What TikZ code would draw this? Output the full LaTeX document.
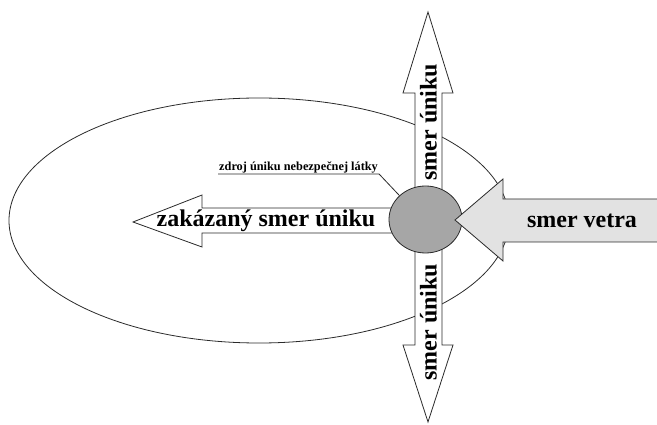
\documentclass[tikz,border=0pt]{standalone}
\usepackage{fontspec}
\setmainfont{Liberation Serif}
\usetikzlibrary{shapes.geometric}
\definecolor{srcgray}{HTML}{A6A6A6}
\definecolor{windgray}{HTML}{E2E2E2}
\definecolor{ink}{HTML}{2A2A2A}
\begin{document}
\begin{tikzpicture}[x=1pt,y=-1pt,
  outl/.style={draw=ink,line width=0.8pt,line join=miter},
  bigtxt/.style={font=\fontsize{24}{24}\selectfont\bfseries,inner sep=0pt},
  smalltxt/.style={font=\fontsize{12.3}{12.3}\selectfont\bfseries,inner sep=0pt}]
\useasboundingbox (0,0) rectangle (657,425);
% zone ellipse
\draw[outl] (259,220.5) ellipse [x radius=250pt, y radius=122.5pt];
% up arrow
\filldraw[outl,fill=white] (415,200) -- (415,93) -- (403,93) -- (428,12) -- (453,93) -- (442,93) -- (442,200) -- cycle;
% down arrow
\filldraw[outl,fill=white] (415,240) -- (415,345) -- (403,345) -- (428,422) -- (453,345) -- (442,345) -- (442,240) -- cycle;
% left arrow
\filldraw[outl,fill=white] (400,208) -- (202,208) -- (202,195) -- (133,222) -- (202,247) -- (202,233) -- (400,233) -- cycle;
% source
\node[ellipse,outl,fill=srcgray,minimum width=73pt,minimum height=67pt,inner sep=0pt] (src) at (425.5,219.5) {};
% wind arrow
\filldraw[outl,fill=windgray] (455,220) -- (503,179) -- (503,199) -- (662,199) -- (662,242) -- (503,242) -- (503,261) -- cycle;
% texts
\node[bigtxt,rotate=90] (up) at (428.5,122) {smer úniku};
\node[bigtxt,rotate=90] (down) at (428.5,322) {smer úniku};
\node[bigtxt] (forbid) at (266,221) {zakázaný smer úniku};
\node[bigtxt] (wind) at (582,221) {smer vetra};
\node[smalltxt,anchor=south west,inner sep=1pt] (lbl) at (218,174) {zdroj úniku nebezpečnej látky};
\draw[draw=ink,line width=0.8pt] (lbl.south west) -- (lbl.south east) -- (src.north west);
\end{tikzpicture}
\end{document}
